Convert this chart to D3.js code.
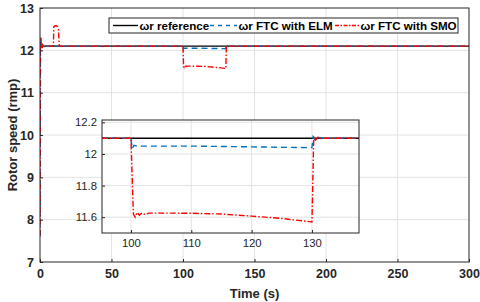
<!DOCTYPE html>
<html><head><meta charset="utf-8">
<script src="https://cdn.jsdelivr.net/npm/d3@7"></script>
<style>
html,body{margin:0;padding:0;background:#fff;}
svg{display:block;font-family:"Liberation Sans",Arial,sans-serif;}
</style></head>
<body>
<svg id="c" width="480" height="302"></svg>
<script>
// ---- data ----
const xTicks = [0, 50, 100, 150, 200, 250, 300];
const yTicks = [7, 8, 9, 10, 11, 12, 13];
const insetXTicks = [100, 110, 120, 130];
const insetYTicks = [11.6, 11.8, 12, 12.2];
const seriesNames = ["ωr reference", "ωr FTC with ELM", "ωr FTC with SMO"];

const refT = [0, 300];
const refV = [12.1, 12.1];

const elmT = [0, 0.3, 0.6, 1.0, 1.5, 2.0, 3.0, 100, 100.2, 100.5, 101, 110, 120, 130, 130.2, 130.5, 131, 132, 300];
const elmV = [7.6, 12.2, 12.28, 12.15, 12.08, 12.11, 12.1, 12.1, 12.035, 12.055, 12.05, 12.05, 12.045, 12.04, 12.11, 12.09, 12.103, 12.1, 12.1];

const smoT = [0, 0.3, 0.6, 1.0, 1.5, 2.0, 3.0, 9.4, 9.6, 10.5, 11.5, 12.3, 12.9, 13.2, 13.5, 100, 100.4, 100.7, 101, 101.4, 101.8, 102.3, 103, 105, 110, 115, 120, 125, 130, 130.3, 130.6, 131, 131.5, 132, 300];
const smoV = [7.62, 12.0, 12.3, 12.2, 12.05, 12.13, 12.1, 12.1, 12.55, 12.58, 12.58, 12.56, 12.5, 12.3, 12.1, 12.1, 11.62, 11.60, 11.63, 11.612, 11.627, 11.618, 11.626, 11.626, 11.625, 11.62, 11.607, 11.592, 11.57, 12.11, 12.088, 12.106, 12.097, 12.1, 12.1];

// ---- drawing ----
const svg = d3.select("#c");
const M = {l: 40, r: 469, t: 8, b: 262};
const x = d3.scaleLinear().domain([0, 300]).range([M.l, M.r]);
const y = d3.scaleLinear().domain([7, 13]).range([M.b, M.t]);

const colors = ["#000000", "#0072BD", "#FF0000"];
const dashes = [null, "6,4", "6,2,1.5,2"];
const zip = (T, V) => T.map((t, i) => [t, V[i]]);
const data = [zip(refT, refV), zip(elmT, elmV), zip(smoT, smoV)];

const defs = svg.append("defs");
defs.append("clipPath").attr("id", "mainClip").append("rect")
  .attr("x", M.l).attr("y", M.t).attr("width", M.r - M.l).attr("height", M.b - M.t);

// grid
const g = svg.append("g");
g.selectAll(".gx").data(xTicks.slice(1, -1)).join("line")
  .attr("x1", d => x(d)).attr("x2", d => x(d)).attr("y1", M.t).attr("y2", M.b)
  .attr("stroke", "#e3e3e3").attr("stroke-width", 1);
g.selectAll(".gy").data(yTicks.slice(1, -1)).join("line")
  .attr("x1", M.l).attr("x2", M.r).attr("y1", d => y(d)).attr("y2", d => y(d))
  .attr("stroke", "#e3e3e3").attr("stroke-width", 1);

// lines main
const line = d3.line().x(d => x(d[0])).y(d => y(d[1]));
const lg = svg.append("g").attr("clip-path", "url(#mainClip)");
data.forEach((d, i) => {
  lg.append("path").attr("d", line(d)).attr("fill", "none")
    .attr("stroke", colors[i]).attr("stroke-width", 1.4)
    .attr("stroke-dasharray", dashes[i]);
});

// axes main
const ax = svg.append("g").attr("transform", `translate(0,${M.b})`)
  .call(d3.axisBottom(x).tickValues(xTicks).tickSize(-3).tickPadding(7));
const ay = svg.append("g").attr("transform", `translate(${M.l},0)`)
  .call(d3.axisLeft(y).tickValues(yTicks).tickSize(-3).tickPadding(6).tickFormat(d3.format("d")));
[ax, ay].forEach(a => {
  a.select(".domain").remove();
  a.selectAll("line").attr("stroke", "#262626");
  a.selectAll("text").attr("font-size", 12.5).attr("font-weight", "bold").attr("fill", "#262626")
   .attr("font-family", "Liberation Sans, Arial, sans-serif");
});
svg.append("rect").attr("x", M.l).attr("y", M.t).attr("width", M.r - M.l).attr("height", M.b - M.t)
  .attr("fill", "none").attr("stroke", "#262626").attr("stroke-width", 1);

svg.append("text").attr("x", (M.l + M.r) / 2).attr("y", 298).attr("text-anchor", "middle")
  .attr("font-size", 13).attr("font-weight", "bold").attr("fill", "#262626").text("Time (s)");
svg.append("text").attr("transform", `translate(17,${(M.t + M.b) / 2}) rotate(-90)`)
  .attr("text-anchor", "middle").attr("font-size", 13).attr("font-weight", "bold").attr("fill", "#262626")
  .text("Rotor speed (rmp)");

// legend
const L = {x: 109, y: 18, w: 349, h: 15};
const leg = svg.append("g");
leg.append("rect").attr("x", L.x).attr("y", L.y).attr("width", L.w).attr("height", L.h)
  .attr("fill", "#fff").attr("stroke", "#262626").attr("stroke-width", 1);
const legItems = [{x0: 113, x1: 138, tx: 139.5}, {x0: 210, x1: 237, tx: 238.5}, {x0: 335, x1: 359, tx: 360.5}];
legItems.forEach((it, i) => {
  leg.append("line").attr("x1", it.x0).attr("x2", it.x1).attr("y1", L.y + L.h / 2).attr("y2", L.y + L.h / 2)
    .attr("stroke", colors[i]).attr("stroke-width", 1.4).attr("stroke-dasharray", i === 1 ? "4,4" : (i === 2 ? "4,1.5,1.5,1.5" : null));
  leg.append("text").attr("x", it.tx).attr("y", L.y + L.h / 2 + 4.2).attr("font-size", 11.6)
    .attr("font-weight", "bold").attr("fill", "#000").text(seriesNames[i]);
});

// inset
const I = {l: 102, r: 359, t: 120, b: 233};
const ix = d3.scaleLinear().domain([95.2, 137.8]).range([I.l, I.r]);
const iy = d3.scaleLinear().domain([11.5, 12.215]).range([I.b, I.t]);
defs.append("clipPath").attr("id", "insClip").append("rect")
  .attr("x", I.l).attr("y", I.t).attr("width", I.r - I.l).attr("height", I.b - I.t);
const ig = svg.append("g");
ig.append("rect").attr("x", I.l).attr("y", I.t).attr("width", I.r - I.l).attr("height", I.b - I.t)
  .attr("fill", "#fff");
ig.selectAll(".igx").data(insetXTicks).join("line")
  .attr("x1", d => ix(d)).attr("x2", d => ix(d)).attr("y1", I.t).attr("y2", I.b)
  .attr("stroke", "#e3e3e3");
ig.selectAll(".igy").data(insetYTicks).join("line")
  .attr("x1", I.l).attr("x2", I.r).attr("y1", d => iy(d)).attr("y2", d => iy(d))
  .attr("stroke", "#e3e3e3");
const iline = d3.line().x(d => ix(d[0])).y(d => iy(d[1]));
const ilg = ig.append("g").attr("clip-path", "url(#insClip)");
data.forEach((d, i) => {
  ilg.append("path").attr("d", iline(d)).attr("fill", "none")
    .attr("stroke", colors[i]).attr("stroke-width", 1.4)
    .attr("stroke-dasharray", dashes[i]);
});
const iax = ig.append("g").attr("transform", `translate(0,${I.b})`)
  .call(d3.axisBottom(ix).tickValues(insetXTicks).tickSize(-3).tickPadding(6));
const iay = ig.append("g").attr("transform", `translate(${I.l},0)`)
  .call(d3.axisLeft(iy).tickValues(insetYTicks).tickSize(-3).tickPadding(5).tickFormat(d => d3.format("")(+d.toFixed(1))));
[iax, iay].forEach(a => {
  a.select(".domain").remove();
  a.selectAll("line").attr("stroke", "#262626");
  a.selectAll("text").attr("font-size", 11.3).attr("fill", "#262626")
   .attr("font-family", "Liberation Sans, Arial, sans-serif");
});
ig.append("rect").attr("x", I.l).attr("y", I.t).attr("width", I.r - I.l).attr("height", I.b - I.t)
  .attr("fill", "none").attr("stroke", "#262626").attr("stroke-width", 1);
</script>
</body></html>
